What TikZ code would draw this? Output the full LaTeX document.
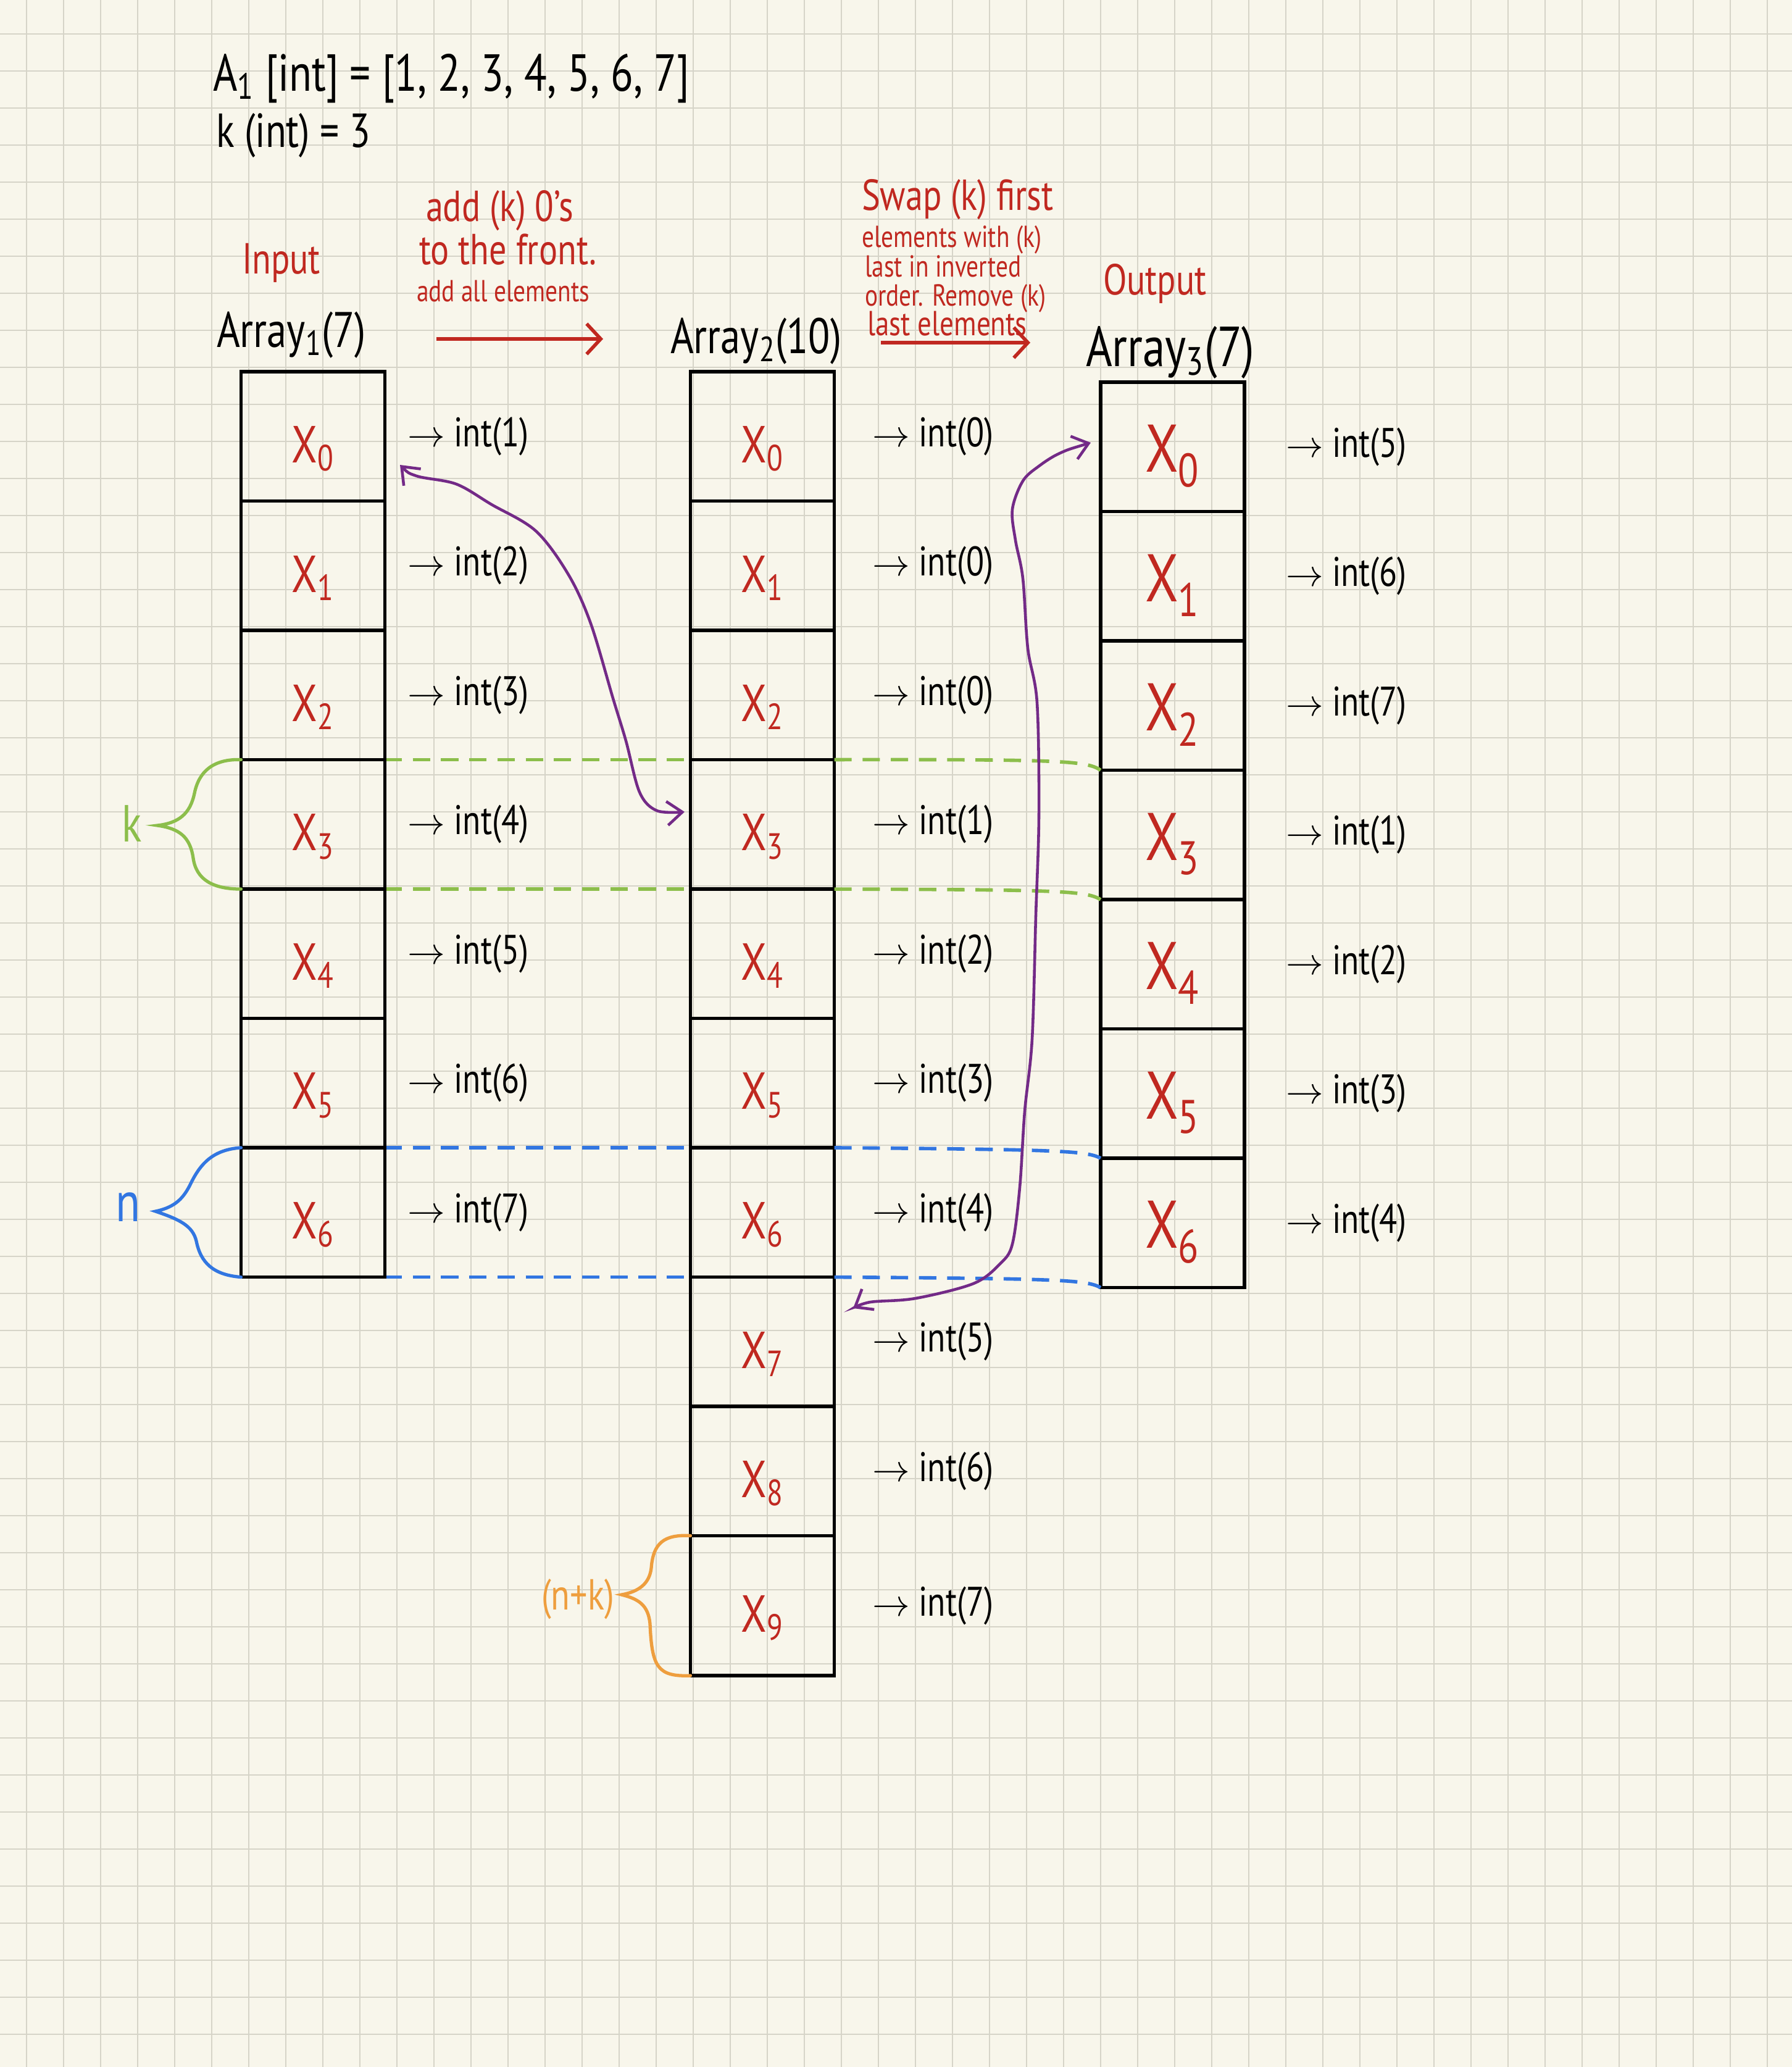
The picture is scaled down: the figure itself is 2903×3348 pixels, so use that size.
\documentclass[tikz,border=0pt]{standalone}
\usepackage{fontspec}
\setmainfont{PT Sans}[FakeStretch=0.8]
\usetikzlibrary{arrows.meta}

\definecolor{paper}{RGB}{248,246,235}
\definecolor{gridgray}{RGB}{214,212,200}
\definecolor{inkred}{RGB}{192,40,32}
\definecolor{kgreen}{RGB}{140,190,75}
\definecolor{nblue}{RGB}{50,118,225}
\definecolor{nkorange}{RGB}{238,158,62}
\definecolor{swappurple}{RGB}{115,42,135}

\newcommand{\fsz}[1]{\fontsize{#1}{#1}\selectfont}

\begin{document}
\begin{tikzpicture}[x=0.01cm, y=-0.01cm,
	every node/.style={inner sep=0pt, outer sep=0pt},
	gridline/.style={gridgray, line width=0.5pt},
	arraycell/.style={draw, line width=1.6pt, minimum width=2.33cm, minimum height=2.095cm},
	cellx/.style={text=inkred, font=\fsz{24}},
	bigcellx/.style={text=inkred, font=\fsz{31}},
	val/.style={anchor=west, font=\fsz{19}},
	heading/.style={anchor=base west, font=\fsz{23}},
	note/.style={anchor=base west, text=inkred},
	redarrow/.style={inkred, line width=1.6pt, -{Straight Barb[length=6.5pt,width=14pt]}},
	swaparrow/.style={swappurple, line width=1.3pt, {Straight Barb[length=7pt,width=11pt]}-{Straight Barb[length=7pt,width=11pt]}},
	kdash/.style={kgreen, line width=1.6pt, dash pattern=on 8pt off 5pt},
	ndash/.style={nblue, line width=1.6pt, dash pattern=on 8pt off 5pt},
	curlybrace/.style={line width=1.5pt, line cap=round}
]
	\useasboundingbox (0,0) rectangle (2903,3348);
	\fill[paper] (0,0) rectangle (2903,3348);
	\foreach \gx in {43,103,...,2900} \draw[gridline] (\gx,0) -- (\gx,3348);
	\foreach \gy in {55,115,...,3340} \draw[gridline] (0,\gy) -- (2903,\gy);

	\node[anchor=base west, font=\fsz{24}] (givenA) at (345,147) {A\textsubscript{1} [int] = [1, 2, 3, 4, 5, 6, 7]};
	\node[anchor=base west, font=\fsz{22}] (givenk) at (350,238) {k (int) = 3};

	\node[note, font=\fsz{20}] (inputtag) at (392,443) {Input};
	\node[note, font=\fsz{20}] (outputtag) at (1787,477) {Output};
	\node[heading] (arr1name) at (351,562) {Array\textsubscript{1}(7)};
	\node[heading] (arr2name) at (1086,572) {Array\textsubscript{2}(10)};
	\node[heading, font=\fsz{26}] (arr3name) at (1759,593) {Array\textsubscript{3}(7)};

	\node[note, font=\fsz{20}] (padnote1) at (690,358) {add (k) 0's};
	\node[note, font=\fsz{20}] (padnote2) at (679,428) {to the front.};
	\node[note, font=\fsz{14}] (padnote3) at (675,488) {add all elements};
	\node[note, font=\fsz{20}] (trimnote1) at (1396,340) {Swap (k) first};
	\node[note, font=\fsz{14}] (trimnote2) at (1396,400) {elements with (k)};
	\node[note, font=\fsz{14}] (trimnote3) at (1401,448) {last in inverted};
	\node[note, font=\fsz{14}] (trimnote4) at (1401,495) {order. Remove (k)};
	\node[note, font=\fsz{16}] (trimnote5) at (1405,543) {last elements};

	\coordinate (padfrom) at (707,549);
	\coordinate (padto) at (977,549);
	\draw[redarrow] (padfrom) -- (padto);
	\coordinate (trimfrom) at (1427,555);
	\coordinate (trimto) at (1669,555);
	\draw[redarrow] (trimfrom) -- (trimto);

	\begin{scope}
		\draw[kdash] (623,1230.5) -- (1118,1230.5);
		\draw[kdash] (623,1440) -- (1118,1440);
		\draw[ndash] (623,1859) -- (1118,1859);
		\draw[ndash] (623,2068.5) -- (1118,2068.5);
	\end{scope}

	\foreach \v [count=\i from 0] in {1,...,7} {
		\node[arraycell] (a1c\i) at (507,706.75+209.5*\i) {};
		\node[cellx] (a1x\i) at ([yshift=-0.2cm]a1c\i.center) {X\textsubscript{\i}};
		\node[val] (a1v\i) at ([xshift=0.37cm]a1c\i.east) {$\rightarrow$ int(\v)};
	}
	\foreach \v [count=\i from 0] in {0,0,0,1,2,3,4,5,6} {
		\node[arraycell] (a2c\i) at (1235,706.75+209.5*\i) {};
		\node[cellx] (a2x\i) at ([yshift=-0.2cm]a2c\i.center) {X\textsubscript{\i}};
		\node[val] (a2v\i) at ([xshift=0.62cm]a2c\i.east) {$\rightarrow$ int(\v)};
	}
	\node[arraycell, minimum height=2.265cm] (a2c9) at (1235,2600.75) {};
	\node[cellx] (a2x9) at ([yshift=-0.2cm]a2c9.center) {X\textsubscript{9}};
	\node[val] (a2v9) at ([xshift=0.62cm]a2c9.east) {$\rightarrow$ int(7)};
	\foreach \v [count=\i from 0] in {5,6,7,1,2,3,4} {
		\node[arraycell] (a3c\i) at (1899.5,723.75+209.5*\i) {};
		\node[bigcellx] (a3x\i) at ([yshift=-0.15cm]a3c\i.center) {X\textsubscript{\i}};
		\node[val] (a3v\i) at ([xshift=0.67cm]a3c\i.east) {$\rightarrow$ int(\v)};
	}

	\draw[kdash] (a2c3.north east) .. controls (1720,1230) and (1760,1232) .. (a3c3.north west);
	\draw[kdash] (a2c3.south east) .. controls (1720,1441) and (1760,1443) .. (a3c3.south west);
	\draw[ndash] (a2c6.north east) .. controls (1720,1862) and (1760,1864) .. (a3c6.north west);
	\draw[ndash] (a2c6.south east) .. controls (1720,2071) and (1760,2073) .. (a3c6.south west);

	\coordinate (ktip) at (255,1337);
	\draw[curlybrace, kgreen] (a1c3.north west) .. controls (345,1229) and (322,1250) .. (315,1285) .. controls (308,1318) and (290,1333) .. (ktip) .. controls (290,1342) and (308,1355) .. (313,1390) .. controls (318,1425) and (345,1440) .. (a1c3.south west);
	\node[text=kgreen, font=\fsz{24}] (kname) at (214,1334) {k};

	\coordinate (ntip) at (252,1962);
	\draw[curlybrace, nblue] (a1c6.north west) .. controls (345,1862) and (325,1885) .. (310,1915) .. controls (298,1940) and (285,1955) .. (ntip) .. controls (290,1975) and (312,1985) .. (318,2010) .. controls (325,2045) and (345,2065) .. (a1c6.south west);
	\node[text=nblue, font=\fsz{26}] (nname) at (208,1955) {n};

	\coordinate (nktip) at (1007,2583);
	\draw[curlybrace, nkorange] (a2c9.north west) .. controls (1075,2485) and (1058,2500) .. (1055,2540) .. controls (1052,2565) and (1035,2578) .. (nktip) .. controls (1035,2590) and (1050,2600) .. (1053,2630) .. controls (1056,2700) and (1065,2716) .. (a2c9.south west);
	\node[text=nkorange, font=\fsz{20}] (nkname) at (936,2590) {(n+k)};

	\coordinate (swapAfrom) at (648,753);
	\coordinate (swapAto) at (1109,1315);
	\draw[swaparrow] plot[smooth, tension=0.55] coordinates {(swapAfrom) (675,771) (739,784) (796,817) (868,860) (921,931) (957,1010) (993,1131) (1014,1200) (1036,1283) (1064,1313) (swapAto)};
	\coordinate (swapBfrom) at (1767,717);
	\coordinate (swapBto) at (1382,2119);
	\draw[swaparrow] plot[smooth, tension=0.55] coordinates {(swapBfrom) (1717,734) (1683,755) (1657,779) (1640,825) (1645,875) (1657,937) (1665,1050) (1680,1138) (1683,1320) (1678,1483) (1672,1683) (1660,1800) (1652,1923) (1640,2015) (1620,2047) (1577,2079) (1483,2103) (1410,2109) (swapBto)};
\end{tikzpicture}
\end{document}
